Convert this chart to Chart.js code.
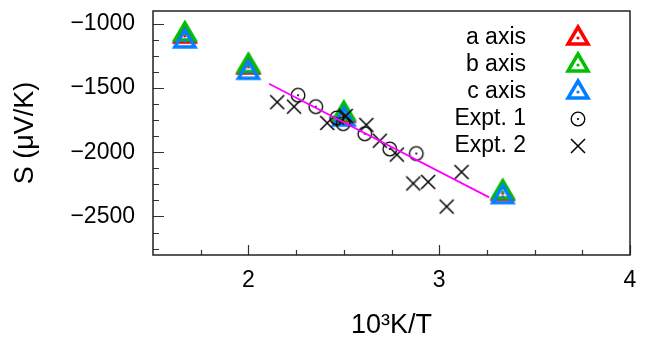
<!DOCTYPE html>
<html lang="en">
<head>
    <meta charset="UTF-8" />
    <title>Seebeck coefficient vs 1000/T</title>
    <script src="https://cdn.jsdelivr.net/npm/chart.js"></script>
    <style>
        html, body { margin: 0; padding: 0; background: #fff; }
    </style>
</head>
<body>
    <canvas id="seebeckChart" width="652" height="339"></canvas>

    <script>
        // calculated points (600, 500, 400, 300 K) for the three axes
        const calcX = [1.667, 2.0, 2.5, 3.333];
        const aAxis = [-1095, -1336, -1712, -2320];
        const bAxis = [-1079, -1325, -1697, -2308];
        const cAxis = [-1133, -1377, -1741, -2345];

        // experiment 1 (circles)
        const expt1X = [2.260, 2.353, 2.463, 2.497, 2.610, 2.741, 2.880];
        const expt1Y = [-1556, -1645, -1733, -1777, -1856, -1975, -2010];

        // experiment 2 (crosses)
        const expt2X = [2.151, 2.239, 2.413, 2.510, 2.618, 2.689, 2.778, 2.864, 2.942, 3.039, 3.117];
        const expt2Y = [-1610, -1645, -1772, -1717, -1787, -1910, -2018, -2243, -2231, -2423, -2154];

        // linear fit (magenta)
        const fitX = [2.108, 3.262];
        const fitY = [-1466, -2351];

        const xTickLabels = [2, 3, 4];
        const yTickLabels = [-1000, -1500, -2000, -2500];
        const xMinorStep = 0.25;
        const yMinorStep = 125;

        const FONT = '"Liberation Sans", Arial, sans-serif';

        const toPoints = (xs, ys) => xs.map((x, i) => ({ x: x, y: ys[i] }));

        // gnuplot-like markers, drawn once into small canvases
        const makeTriangle = (color) => {
            const c = document.createElement("canvas");
            c.width = 30; c.height = 30;
            const g = c.getContext("2d");
            g.strokeStyle = color;
            g.lineWidth = 3.5;
            g.beginPath();
            g.moveTo(15, 4); g.lineTo(25, 21); g.lineTo(5, 21); g.closePath();
            g.stroke();
            g.fillStyle = color;
            g.beginPath(); g.arc(15, 15, 1.6, 0, Math.PI * 2); g.fill();
            return c;
        };
        const makeCircle = () => {
            const c = document.createElement("canvas");
            c.width = 18; c.height = 18;
            const g = c.getContext("2d");
            g.strokeStyle = "#000"; g.lineWidth = 1.3;
            g.beginPath(); g.arc(9, 9, 6.8, 0, Math.PI * 2); g.stroke();
            g.fillStyle = "#000";
            g.beginPath(); g.arc(9, 9, 1.1, 0, Math.PI * 2); g.fill();
            return c;
        };
        const makeCross = () => {
            const c = document.createElement("canvas");
            c.width = 18; c.height = 18;
            const g = c.getContext("2d");
            g.strokeStyle = "#000"; g.lineWidth = 1.5;
            g.beginPath();
            g.moveTo(2, 2); g.lineTo(16, 16);
            g.moveTo(16, 2); g.lineTo(2, 16);
            g.stroke();
            return c;
        };

        const triRed = makeTriangle("#ff0000");
        const triGreen = makeTriangle("#00c000");
        const triBlue = makeTriangle("#0080ff");
        const circ = makeCircle();
        const cross = makeCross();

        // inward ticks + frame
        const frameTicks = {
            id: "frameTicks",
            afterDraw(chart) {
                const { ctx, chartArea: a, scales } = chart;
                ctx.save();
                ctx.strokeStyle = "#333";
                ctx.lineWidth = 1.2;
                ctx.beginPath();
                scales.x.ticks.forEach(t => {
                    const px = Math.round(scales.x.getPixelForValue(t.value)) + 0.5;
                    const len = xTickLabels.includes(t.value) ? 10 : 5;
                    ctx.moveTo(px, a.bottom);
                    ctx.lineTo(px, a.bottom - len);
                });
                scales.y.ticks.forEach(t => {
                    const py = Math.round(scales.y.getPixelForValue(t.value)) + 0.5;
                    const len = yTickLabels.includes(t.value) ? 11 : 6;
                    ctx.moveTo(a.left, py);
                    ctx.lineTo(a.left + len, py);
                });
                ctx.stroke();
                ctx.strokeStyle = "#222";
                ctx.lineWidth = 1.5;
                ctx.strokeRect(a.left, a.top, a.right - a.left, a.bottom - a.top);
                ctx.restore();
            }
        };

        // key in the top right corner, text right-aligned then the symbol
        const keyPlugin = {
            id: "gnuKey",
            afterDraw(chart) {
                const { ctx, chartArea: a } = chart;
                const items = chart.data.datasets.filter(d => d.inKey);
                ctx.save();
                ctx.font = "23px " + FONT;
                ctx.fillStyle = "#000";
                ctx.textAlign = "right";
                ctx.textBaseline = "middle";
                items.forEach((ds, i) => {
                    const y = a.top + 27 + i * 27;
                    ctx.fillText(ds.label, a.right - 104, y);
                    const img = ds.pointStyle;
                    ctx.drawImage(img, a.right - 52 - img.width / 2, y - img.height / 2);
                });
                ctx.restore();
            }
        };

        const ctx = document.getElementById("seebeckChart").getContext("2d");
        new Chart(ctx, {
            type: "scatter",
            data: {
                datasets: [
                    { label: "a axis", data: toPoints(calcX, aAxis), pointStyle: triRed, pointRadius: 10, order: 5, inKey: true },
                    { label: "b axis", data: toPoints(calcX, bAxis), pointStyle: triGreen, pointRadius: 10, order: 4, inKey: true },
                    { label: "c axis", data: toPoints(calcX, cAxis), pointStyle: triBlue, pointRadius: 10, order: 3, inKey: true },
                    { label: "Expt. 1", data: toPoints(expt1X, expt1Y), pointStyle: circ, pointRadius: 8, order: 2, inKey: true },
                    { label: "Expt. 2", data: toPoints(expt2X, expt2Y), pointStyle: cross, pointRadius: 8, order: 1, inKey: true },
                    {
                        label: "fit", data: toPoints(fitX, fitY), showLine: true, pointRadius: 0,
                        borderColor: "#ff00ff", borderWidth: 1.8, order: 0, inKey: false
                    }
                ]
            },
            options: {
                responsive: false,
                animation: false,
                events: [],
                layout: { padding: { top: 8, right: 22, left: 0, bottom: 0 } },
                plugins: { legend: { display: false }, tooltip: { enabled: false } },
                scales: {
                    x: {
                        type: "linear",
                        min: 1.5,
                        max: 4,
                        afterBuildTicks: scale => {
                            const ticks = [];
                            for (let v = 1.5 + xMinorStep; v <= 4; v += xMinorStep) ticks.push({ value: v });
                            scale.ticks = ticks;
                        },
                        afterFit: scale => {
                            scale.height = 84;
                            scale.paddingLeft = 0; scale.paddingRight = 0;
                        },
                        grid: { display: false, drawTicks: false },
                        border: { display: false },
                        ticks: {
                            autoSkip: false,
                            maxRotation: 0,
                            padding: 12,
                            color: "#000",
                            font: { family: FONT, size: 23 },
                            callback: v => xTickLabels.includes(v) ? String(v) : ""
                        },
                        title: {
                            display: true,
                            text: "10³K/T",
                            color: "#000",
                            font: { family: FONT, size: 27, lineHeight: 1 },
                            padding: { top: 0, bottom: 0 }
                        }
                    },
                    y: {
                        type: "linear",
                        min: -2800,
                        max: -900,
                        afterBuildTicks: scale => {
                            const ticks = [];
                            for (let v = -2750; v <= -1000; v += yMinorStep) ticks.push({ value: v });
                            scale.ticks = ticks;
                        },
                        afterFit: scale => {
                            scale.width = 153;
                            scale.paddingTop = 0; scale.paddingBottom = 0;
                        },
                        grid: { display: false, drawTicks: false },
                        border: { display: false },
                        ticks: {
                            autoSkip: false,
                            padding: 18,
                            color: "#000",
                            font: { family: FONT, size: 23 },
                            callback: v => yTickLabels.includes(v) ? String(v).replace("-", "\u2212") : ""
                        },
                        title: {
                            display: true,
                            text: "S (μV/K)",
                            color: "#000",
                            font: { family: FONT, size: 27, lineHeight: 1 },
                            padding: { top: 12, bottom: 0 }
                        }
                    }
                }
            },
            plugins: [frameTicks, keyPlugin]
        });
    </script>
</body>
</html>
